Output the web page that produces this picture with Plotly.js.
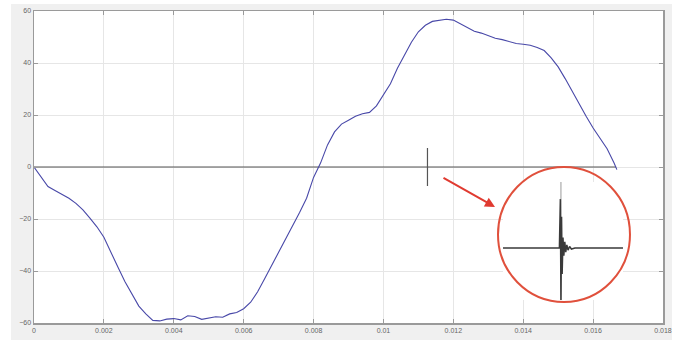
<!DOCTYPE html>
<html>
<head>
<meta charset="utf-8">
<script src="https://cdn.plot.ly/plotly-3.0.1.min.js"></script>
<style>
html,body{margin:0;padding:0;background:#ffffff;width:681px;height:340px;overflow:hidden;}
#chart{position:absolute;left:11px;top:4px;width:661px;height:336px;}
</style>
</head>
<body>
<div id="chart"></div>
<script>
// Main waveform (time in s, value)
const timeS = [0,0.0002,0.0004,0.0006,0.0008,0.001,0.0012,0.0014,0.0016,0.0018,
  0.002,0.0022,0.0024,0.0026,0.0028,0.003,0.0032,0.0034,0.0036,0.0038,
  0.004,0.0042,0.0044,0.0046,0.0048,0.005,0.0052,0.0054,0.0056,0.0058,
  0.006,0.0062,0.0064,0.0066,0.0068,0.007,0.0072,0.0074,0.0076,0.0078,
  0.008,0.0082,0.0084,0.0086,0.0088,0.009,0.0092,0.0094,0.0096,0.0098,
  0.01,0.0102,0.0104,0.0106,0.0108,0.011,0.0112,0.0114,0.0116,0.0118,
  0.012,0.0122,0.0124,0.0126,0.0128,0.013,0.0132,0.0134,0.0136,0.0138,
  0.014,0.0142,0.0144,0.0146,0.0148,0.015,0.0152,0.0154,0.0156,0.0158,
  0.016,0.0162,0.0164,0.0166,0.01668];
const voltage = [0,-4,-7.5,-9,-10.5,-12,-14,-16.5,-19.7,-23,
  -27,-33,-38.5,-44,-49,-53.5,-56.5,-59,-59.2,-58.5,
  -58.3,-58.8,-57.2,-57.5,-58.6,-58.2,-57.6,-57.8,-56.5,-56,
  -54.5,-52,-48,-43,-38,-33,-28,-23,-17.5,-12,
  -4,1.5,8.5,13.5,16.5,18,19.5,20.5,21,23.5,
  27.5,32,38,43,48,52,54.5,56,56.5,56.8,
  56.5,55,53.5,52.2,51.5,50.5,49.5,49,48.2,47.5,
  47.2,46.8,46,44.8,42,38.5,34,29,24,19.5,
  15,11,7,1.5,-1];

// Reference zero line and transient spike
const zeroLineX = [0, 0.01666];
const zeroLineY = [0, 0];
const spikeX = [0.01126, 0.01126];
const spikeY = [7.3, -7.3];

// Zoomed inset of the transient (normalised units)
const insetX = [0,0.47,0.478,0.483,0.488,0.493,0.5,0.507,0.515,0.523,0.532,0.542,0.555,0.57,0.6,1.0];
const insetY = [0,0,0.94,-1.0,0.6,-0.5,0.2,-0.15,0.12,-0.08,0.06,-0.04,0.03,-0.02,0,0];

const xTicks = [0,0.002,0.004,0.006,0.008,0.01,0.012,0.014,0.016,0.018];
const xTickText = ['0','0.002','0.004','0.006','0.008','0.01','0.012','0.014','0.016','0.018'];
const yTicks = [-60,-40,-20,0,20,40,60];

const traces = [
  {x: zeroLineX, y: zeroLineY, mode:'lines', line:{color:'#555555', width:1.2}, hoverinfo:'skip'},
  {x: spikeX, y: spikeY, mode:'lines', line:{color:'#555555', width:1.2}, hoverinfo:'skip'},
  {x: timeS, y: voltage, mode:'lines', line:{color:'#4848a8', width:1.1}, hoverinfo:'skip'},
  {x: [0.483,0.483], y: [-1.0,1.27], xaxis:'x2', yaxis:'y2', mode:'lines', line:{color:'#9a9a9a', width:1}, hoverinfo:'skip'},
  {x: insetX, y: insetY, xaxis:'x2', yaxis:'y2', mode:'lines', line:{color:'#3a3a3a', width:1.5}, hoverinfo:'skip'}
];

const tickFont = {family:'Liberation Sans, Arial, sans-serif', size:7, color:'#666666'};

const layout = {
  width:661, height:336,
  margin:{l:23, r:9, t:7, b:17},
  paper_bgcolor:'#f0f0f0',
  plot_bgcolor:'#ffffff',
  showlegend:false,
  xaxis:{range:[0,0.018], tickvals:xTicks, ticktext:xTickText, ticks:'inside', ticklen:4,
    tickcolor:'#9a9a9a', showline:true, linecolor:'#9a9a9a', linewidth:1.5, mirror:'ticks',
    showgrid:true, gridcolor:'#e6e6e6', gridwidth:1, zeroline:false, tickfont:tickFont, fixedrange:true},
  yaxis:{range:[-60,60], tickvals:yTicks, ticks:'inside', ticklen:4,
    tickcolor:'#9a9a9a', showline:true, linecolor:'#9a9a9a', linewidth:1.5, mirror:'ticks',
    showgrid:true, gridcolor:'#e6e6e6', gridwidth:1, zeroline:false, tickfont:tickFont, fixedrange:true},
  xaxis2:{domain:[0.7456,0.9364], range:[0,1], visible:false, anchor:'y2'},
  yaxis2:{domain:[0.0737,0.452], range:[-1.0,1.27], visible:false, anchor:'x2'},
  shapes:[
    {type:'circle', xref:'paper', yref:'paper', x0:0.7377, x1:0.9475, y0:0.0673, y1:0.5,
     line:{color:'#e0503c', width:2}}
  ],
  annotations:[
    {xref:'paper', yref:'paper', x:0.7329, y:0.3718, ax:-53, ay:-30, text:'', showarrow:true,
     arrowhead:2, arrowsize:1, arrowwidth:2, arrowcolor:'#e03a30'}
  ]
};

Plotly.newPlot('chart', traces, layout, {displayModeBar:false, staticPlot:true});
</script>
</body>
</html>
